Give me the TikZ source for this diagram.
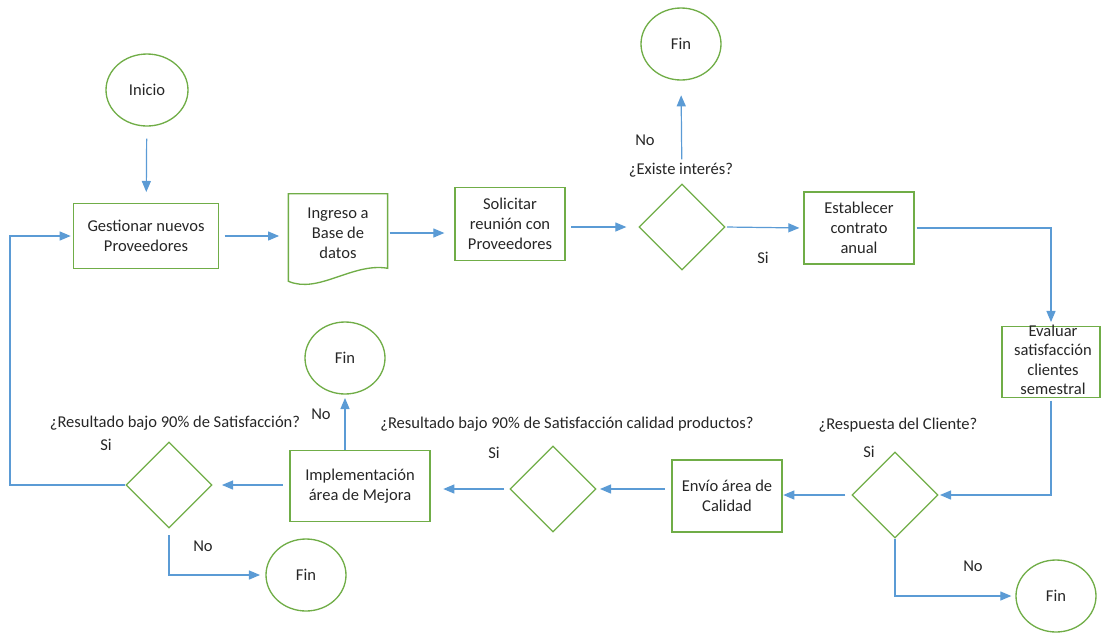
\documentclass[tikz,border=0pt]{standalone}
\usepackage{fontspec}
\setmainfont{Carlito}
\usepackage{tikz}
\usetikzlibrary{arrows,shapes.geometric,calc}
\definecolor{verde}{RGB}{112,173,71}
\definecolor{azul}{RGB}{91,155,213}

\begin{document}
\begin{tikzpicture}[x=0.75pt,y=-0.75pt,
    font=\fontsize{12.4}{15}\selectfont,text=black!85,
    caja/.style={draw=verde,line width=1pt,rectangle,align=center,inner sep=2pt},
    decision/.style={draw=verde,line width=1pt,diamond,shape aspect=1,minimum size=64.5pt,inner sep=0pt},
    fin/.style={draw=verde,line width=1pt,ellipse,minimum width=60pt,minimum height=54pt},
    flecha/.style={draw=azul,line width=0.9pt,-triangle 45}]
    \useasboundingbox (0,0) rectangle (1101,633);
    \node[fin,minimum width=61.5pt] (inicio) at (147,90) {Inicio};
    \node[caja,minimum width=109pt,minimum height=49pt] (gest) at (146,236) {Gestionar nuevos\\Proveedores};
    \node[minimum width=74pt,minimum height=58.5pt,align=center] (ing) at (338,233) {Ingreso a\\Base de\\datos};
    \draw[verde,line width=1pt] (ing.north west) -- (ing.north east) -- ($(ing.south east)+(0,-4)$)
      .. controls ($(ing.south east)+(-35,-10)$) and ($(ing.south west)+(30,22)$) .. ($(ing.south west)+(0,9)$) -- cycle;
    \node[caja,minimum width=82.5pt,minimum height=55pt] (sol) at (510,224) {Solicitar\\reunión con\\Proveedores};
    \node[decision] (existe) at (682,227) {};
    \node[fin] (fin1) at (681,44) {Fin};
    \node[caja,minimum width=82.5pt,minimum height=54pt] (est) at (859,228) {Establecer\\contrato\\anual};
    \node[caja,minimum width=73.5pt,minimum height=53pt] (eval) at (1051,362) {};
    \node[align=center,inner sep=0pt,font=\fontsize{12.4}{14.6}\selectfont] (evaltxt) at (1053,360) {Evaluar\\satisfacción\\clientes\\semestral};
    \node[decision] (resp) at (895,495) {};
    \node[fin] (fin4) at (1056,596) {Fin};
    \node[caja,minimum width=82.5pt,minimum height=54pt] (envio) at (727,496) {Envío área de\\Calidad};
    \node[decision] (dm) at (553,489) {};
    \node[caja,minimum width=105pt,minimum height=53pt] (impl) at (360,486) {Implementación\\área de Mejora};
    \node[fin] (fin2) at (345,358) {Fin};
    \node[decision] (dl) at (169,485) {};
    \node[fin] (fin3) at (306,575) {Fin};
    \coordinate (esq) at (10,485);

    \node (lexiste) at (681,170) {¿Existe interés?};
    \node (lno1) at (645,140) {No};
    \node (lsi1) at (763,258) {Si};
    \node (lresp) at (898,425) {¿Respuesta del Cliente?};
    \node (lsi2) at (869,452) {Si};
    \node (lno2) at (973,566) {No};
    \node (ldm) at (567,424) {¿Resultado bajo 90\% de Satisfacción calidad productos?};
    \node (lsi3) at (494,453) {Si};
    \node (lno3) at (321,414) {No};
    \node (ldl) at (175,423) {¿Resultado bajo 90\% de Satisfacción?};
    \node (lsi4) at (106,445) {Si};
    \node (lno4) at (203,546) {No};

    \draw[flecha,shorten <=9pt,shorten >=8pt] (inicio) -- (gest);
    \draw[flecha,shorten <=4pt,shorten >=7pt] (gest.east) -- (gest.east -| ing.west);
    \draw[flecha,shorten <=1.5pt,shorten >=7.5pt] (ing.east) -- (ing.east -| sol.west);
    \draw[flecha,shorten <=4pt,shorten >=9pt] (sol.east |- existe) -- (existe.west);
    \draw[flecha,shorten <=18pt,shorten >=11pt] (existe.north) -- (fin1.south);
    \draw[flecha,shorten <=1pt,shorten >=3pt] (existe.east) -- (est.west);
    \draw[flecha,shorten <=1.5pt,shorten >=3pt] (est.east) -| (eval.north);
    \draw[flecha,shorten <=2pt,shorten >=1pt] (eval.south) |- (resp.east);
    \draw[flecha,shorten <=4.5pt,shorten >=0.5pt] (resp.west) -- (resp.west -| envio.east);
    \draw[flecha,shorten >=3pt] (resp.south) |- (fin4.west);
    \draw[flecha,shorten <=5pt,shorten >=2.5pt] (envio.west |- dm) -- (dm.east);
    \draw[flecha,shorten <=4pt,shorten >=9.5pt] (dm.west) -- (dm.west -| impl.east);
    \draw[flecha,shorten <=0pt,shorten >=2.5pt] (fin2.south |- impl.north) -- (fin2.south);
    \draw[flecha,shorten <=5pt,shorten >=7pt] (impl.west |- dl) -- (dl.east);
    \draw[flecha,shorten >=1.5pt] (dl.west) -- (esq) |- (gest.west);
    \draw[flecha,shorten <=5pt,shorten >=4pt] (dl.south) |- (fin3.west);
\end{tikzpicture}
\end{document}
